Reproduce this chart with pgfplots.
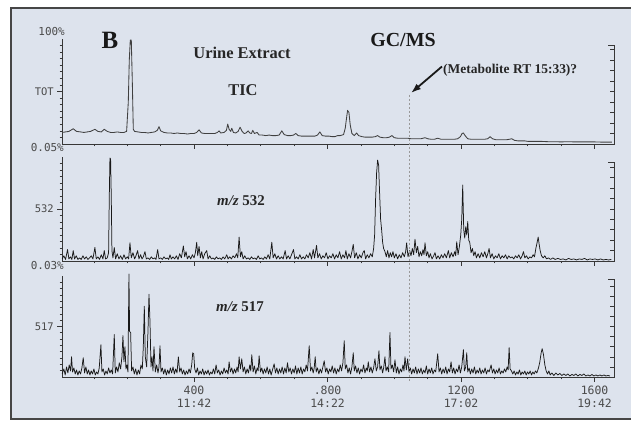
\documentclass[border=0pt]{standalone}
\usepackage{pgfplots}
\pgfplotsset{compat=1.18}
\usetikzlibrary{arrows.meta}
\usepackage{fontspec}
\setmainfont{Liberation Serif}
\newfontfamily\monofont{DejaVu Sans Mono}
\definecolor{bg}{RGB}{221,227,237}
\definecolor{framec}{RGB}{70,70,70}
\definecolor{axc}{RGB}{55,55,55}
\definecolor{lbl}{RGB}{75,75,75}
\pgfplotsset{
  panel/.style={
    scale only axis, width=552.4bp, xmin=5, xmax=1660, ymin=0, ymax=100,
    axis x line*=bottom, axis y line*=left,
    axis line style={axc, line width=0.9pt},
    tick style={axc, line width=0.7pt},
    tick align=outside,
    major tick length=5bp, minor tick length=2.5bp,
    xtick={400,800,1200,1600}, minor xtick={100,200,...,1600},
    ytick={50}, minor ytick={6.25,12.5,18.75,25,31.25,37.5,43.75,56.25,62.5,68.75,75,81.25,87.5,93.75},
    yticklabel style={font=\monofont\fontsize{10.5}{12}\selectfont, text=lbl},
    xticklabel style={font=\monofont\fontsize{11.5}{14}\selectfont, text=lbl, align=center},
    clip=false, anchor=south west,
  },
  trace/.style={line width=0.75pt, color=black!90, mark=none, line join=round},
}
\newcommand{\rightaxis}[1]{%
  \draw[axc, line width=0.9pt] (axis cs:1660,0) -- (axis cs:1660,#1) -- ++(-5bp,0);
  \pgfplotsinvokeforeach{10,20,30,40,50,60,70,80,90}{\draw[axc,line width=0.6pt] (axis cs:1660,##1) -- ++(-2.5bp,0);}%
}
\begin{document}
\begin{tikzpicture}
\path[use as bounding box] (0,0) rectangle (631bp,421bp);
\fill[white] (0,0) rectangle (631bp,421bp);
\fill[bg] (11bp,2bp) rectangle (631bp,413bp);
\draw[framec, line width=1.6pt] (631bp,413bp) -- (11bp,413bp) -- (11bp,2bp) -- (631bp,2bp);

% Panel 1: TIC
\begin{axis}[panel, at={(62.2bp,277bp)}, height=105bp, yticklabels={TOT}, xticklabels={}]
\addplot[trace, color=black!75, line width=0.85pt] coordinates {
(5,11)(15,11.5)(25,12)(38,14.5)(48,12)(60,11.5)(70,11)(80,11.5)(90,12)(103,14)(112,12)(122,11.5)(131,14)(140,12)(150,11)(160,11)(170,11.5)(180,11)(190,11)(198,12)(203,40)(206,80)(209,99)(212,99)(215,60)(218,14)(222,12)(232,11.5)(242,11)(252,11)(262,10.5)(272,11)(282,11.5)(290,13)(295,16.5)(300,12.5)(310,11)(320,10.5)(330,10.5)(340,10)(350,10.5)(360,10)(370,10)(380,9.5)(390,10)(400,10)(408,11)(415,13.5)(422,10.5)(432,10)(442,10)(452,10)(462,10)(470,11)(475,12.5)(480,10.5)(490,11)(497,13)(501,19)(505,14)(510,12)(513,15)(518,11)(525,10.5)(532,12)(538,16)(544,12)(550,10)(556,10.5)(562,12.5)(567,10.5)(572,10)(576,13)(581,10)(589,11)(595,8.5)(605,8.5)(615,8)(625,8.5)(635,8)(645,8)(655,8.5)(663,12.5)(670,9)(680,8)(690,8)(698,8.5)(705,10)(712,8)(722,7.5)(732,7.5)(742,7.5)(752,7.5)(762,7.5)(770,8.5)(777,11.5)(784,8)(794,7.5)(804,7.5)(814,7)(822,7)(830,8)(838,8)(848,9)(853,15)(857,25)(860,32)(864,30)(868,18)(873,10)(880,8)(887,10.5)(893,8)(903,7)(913,6.5)(923,6.5)(933,6.5)(943,7)(950,8)(957,6.5)(967,6)(977,6)(985,6.5)(993,8)(1000,6)(1010,5.5)(1020,5.5)(1030,5.5)(1040,5.5)(1050,5)(1060,5)(1070,5)(1080,5)(1092,6)(1100,5)(1110,4.5)(1120,4.5)(1130,5.5)(1140,4.5)(1150,4.5)(1160,4.5)(1170,4.5)(1180,4.5)(1190,5)(1198,7)(1203,10)(1207,10.5)(1212,8)(1220,5)(1230,4.5)(1240,4.5)(1250,4.5)(1260,4.5)(1270,4.5)(1280,5)(1287,7)(1294,5)(1305,4)(1315,4)(1325,4)(1335,4)(1345,4.5)(1352,5)(1360,3.5)(1370,3)(1380,3)(1390,3)(1400,2.5)(1420,2.5)(1440,2.5)(1460,2.2)(1480,2.2)(1500,2)(1520,2.2)(1540,2)(1560,2)(1580,2)(1600,2)(1620,1.8)(1640,1.8)(1652,1.8)
};
\rightaxis{94}
\end{axis}

% Panel 2: m/z 532
\begin{axis}[panel, at={(62.2bp,160bp)}, height=104bp, yticklabels={532}, xticklabels={}]
\addplot[trace] coordinates {
(5,2)(10,5)(15,1.5)(21,11)(25,2)(30,4)(34,1.5)(38,10)(42,2)(47,5)(52,1.5)(57,3)(62,1.5)(67,5)(72,2)(77,4)(82,1.5)(87,3)(92,5)(97,2)(103,13)(107,2)(112,4)(117,1.5)(122,6)(127,2)(131,10)(135,2)(140,3)(144,8)(146,60)(148,99)(150,98)(152,62)(154,10)(157,3)(161,13)(165,2)(170,7)(175,2)(180,5)(185,1.5)(190,6)(195,2)(200,4)(204,2)(208,17.5)(212,3)(217,8)(222,2)(226,5)(231,10)(235,2)(240,6)(244,2)(248,4)(253,9)(257,2)(262,3)(267,1.5)(272,4)(277,2)(282,3)(286,1.5)(291,11)(295,2)(300,3)(305,1.5)(310,4)(315,2)(320,3)(324,1.5)(328,6)(332,2)(337,4)(342,2)(347,5)(352,1.5)(357,7)(362,3)(368,14.5)(372,4)(376,9)(380,2)(385,5)(390,2)(395,6)(400,3)(404,8)(408,18)(411,5)(415,14)(419,3)(423,9)(427,2)(432,7)(438,10)(442,2)(447,5)(452,2)(457,3)(462,1.5)(467,4)(472,2)(477,3)(482,1.5)(487,4)(492,2)(498,6)(502,2)(507,4)(512,2)(517,5)(522,3)(527,7)(531,3)(535,23)(539,4)(543,9)(547,2)(552,5)(557,2)(562,3)(567,1.5)(572,4)(577,2)(582,3)(587,1.5)(592,5)(597,2)(602,3)(607,1.5)(612,4)(617,2)(622,6)(627,2)(633,18)(637,3)(642,7)(647,2)(652,5)(657,2)(662,4)(667,2)(673,10)(677,2)(682,5)(687,2)(692,6)(698,11)(702,2)(707,4)(712,2)(717,6)(722,2)(727,4)(732,2)(737,6)(742,3)(747,8)(752,2)(757,11)(761,3)(767,15)(771,3)(776,7)(781,2)(786,5)(791,3)(796,8)(801,2)(806,5)(811,3)(816,7)(821,2)(826,6)(831,3)(836,9)(841,2)(846,6)(851,3)(855,10)(859,2)(864,7)(869,3)(873,9)(877,16)(881,3)(886,8)(891,2)(896,6)(901,3)(906,8)(910,10)(914,2)(919,6)(924,3)(929,7)(934,4)(938,12)(941,25)(944,60)(947,85)(950,97)(953,92)(956,65)(959,40)(962,30)(965,18)(968,12)(972,9)(976,4)(980,10)(984,3)(988,8)(992,4)(996,9)(1000,3)(1005,7)(1010,2)(1015,6)(1020,3)(1025,8)(1030,4)(1034,9)(1037,17.5)(1041,4)(1046,10)(1050,5)(1054,12)(1058,6)(1062,21)(1066,8)(1070,14)(1074,4)(1078,9)(1082,5)(1086,11)(1089,6)(1092,17.5)(1096,5)(1100,9)(1104,3)(1108,7)(1113,2)(1118,5)(1122,8)(1126,2)(1131,5)(1136,2)(1141,6)(1146,3)(1151,7)(1156,3)(1162,10)(1166,3)(1171,8)(1176,4)(1181,9)(1184,5)(1187,18.5)(1191,6)(1195,14)(1199,25)(1202,40)(1205,73)(1208,30)(1211,22)(1214,33)(1217,25)(1220,38)(1223,20)(1226,18)(1230,8)(1234,12)(1238,5)(1242,9)(1246,3)(1251,7)(1256,3)(1261,8)(1266,4)(1271,9)(1276,3)(1280,7)(1284,12)(1288,3)(1293,7)(1298,2)(1303,5)(1308,3)(1313,7)(1318,2)(1323,5)(1328,3)(1333,6)(1338,2)(1343,5)(1348,3)(1353,4)(1358,2)(1363,5)(1368,3)(1373,6)(1378,2)(1383,5)(1387,9)(1391,3)(1396,5)(1401,2)(1406,4)(1411,3)(1416,6)(1420,4)(1424,12)(1428,18)(1431,23)(1434,16)(1437,10)(1441,5)(1446,3)(1451,5)(1456,2)(1462,3)(1468,1.5)(1475,3)(1482,1.5)(1490,2.5)(1498,1.5)(1506,2)(1514,1)(1522,2.5)(1530,1.5)(1538,2)(1546,1)(1554,2)(1562,1.5)(1570,2.5)(1578,1)(1586,2)(1594,1.5)(1602,2)(1610,1)(1618,2)(1626,1)(1634,1.5)(1642,1)(1650,1.5)
};
\rightaxis{95}
\end{axis}

% Panel 3: m/z 517
\begin{axis}[panel, at={(62.2bp,44bp)}, height=101bp, yticklabels={517},
  xticklabels={{400\\11:42},{.800\\14:22},{1200\\17:02},{1600\\19:42}}]
\addplot[trace] coordinates {
(5,3)(10,8)(14,2)(18,10)(22,4)(26,12)(30,6)(33,20)(36,5)(40,9)(44,3)(48,7)(52,2)(56,6)(60,3)(64,9)(68,19)(72,4)(76,10)(80,3)(84,7)(88,2)(92,6)(96,3)(100,8)(104,2)(108,5)(112,3)(116,9)(121,32)(124,5)(128,8)(132,2)(136,6)(140,3)(144,9)(148,4)(152,7)(156,3)(161,42)(164,4)(168,10)(172,5)(176,14)(180,8)(184,20)(187,41)(190,15)(193,30)(196,8)(199,12)(202,5)(205,102)(207,45)(210,44)(213,6)(217,10)(221,3)(225,8)(229,2)(233,7)(237,3)(241,12)(245,8)(248,30)(251,70)(254,20)(258,10)(262,45)(265,82)(268,55)(271,10)(274,20)(277,6)(280,30)(284,5)(288,12)(292,4)(295,10)(298,31)(301,5)(305,9)(309,3)(313,8)(317,2)(321,7)(325,3)(329,9)(333,4)(337,10)(341,3)(345,8)(349,4)(353,20)(357,5)(361,9)(365,3)(369,7)(373,2)(377,6)(381,3)(385,8)(389,4)(393,12)(396,24)(399,23)(402,8)(406,4)(410,9)(414,2)(418,6)(422,3)(426,8)(430,2)(434,6)(438,3)(442,7)(446,2)(450,5)(454,3)(458,8)(462,3)(466,12)(470,4)(474,7)(478,2)(482,6)(486,3)(490,9)(494,4)(498,7)(502,3)(505,15)(509,5)(513,9)(517,3)(521,8)(525,4)(529,10)(532,5)(535,20)(539,8)(543,18)(547,5)(551,10)(555,3)(559,8)(563,4)(567,12)(570,6)(573,22)(577,5)(581,11)(585,3)(589,9)(592,6)(595,21)(599,5)(603,9)(607,3)(611,8)(615,4)(619,10)(623,3)(627,8)(631,2)(635,7)(640,13)(644,4)(648,9)(652,3)(656,8)(660,4)(664,10)(668,3)(672,9)(676,4)(680,14)(684,5)(688,9)(692,3)(696,8)(700,4)(704,11)(708,3)(712,9)(716,4)(720,10)(724,3)(728,8)(732,5)(736,12)(740,6)(745,31)(749,6)(753,10)(757,4)(760,9)(763,20)(766,5)(770,9)(774,3)(778,8)(782,4)(786,10)(790,16)(794,5)(798,9)(802,3)(806,8)(810,5)(814,11)(818,4)(822,9)(826,3)(830,8)(834,5)(838,12)(842,6)(846,14)(850,36)(853,8)(857,12)(861,4)(865,9)(869,3)(873,10)(877,24)(880,6)(884,11)(888,4)(892,9)(896,3)(900,8)(904,5)(908,12)(912,4)(916,9)(919,6)(922,15)(926,5)(930,10)(934,4)(938,9)(942,18)(946,6)(950,10)(954,26)(957,7)(961,11)(965,4)(968,9)(972,20)(975,6)(979,10)(983,5)(987,44)(990,8)(994,12)(998,5)(1002,17)(1006,4)(1010,10)(1014,3)(1018,8)(1022,5)(1026,12)(1029,6)(1032,20)(1036,7)(1040,18)(1044,5)(1048,9)(1052,3)(1056,8)(1060,4)(1064,10)(1068,3)(1072,8)(1076,4)(1080,9)(1084,3)(1088,7)(1092,4)(1096,11)(1100,3)(1104,8)(1108,4)(1112,9)(1116,3)(1120,7)(1124,5)(1130,23)(1134,5)(1138,9)(1142,3)(1146,8)(1150,4)(1154,10)(1158,3)(1162,8)(1166,5)(1170,15)(1174,4)(1178,9)(1182,3)(1186,8)(1190,5)(1194,12)(1198,4)(1202,10)(1207,27)(1210,6)(1214,10)(1217,24)(1220,5)(1224,9)(1228,3)(1232,8)(1236,4)(1240,10)(1244,3)(1248,7)(1252,4)(1256,9)(1260,3)(1264,7)(1268,4)(1272,9)(1276,3)(1280,7)(1284,5)(1290,12)(1294,4)(1298,8)(1302,3)(1306,7)(1310,4)(1314,9)(1318,3)(1322,6)(1326,4)(1330,8)(1334,5)(1338,10)(1341,7)(1344,29)(1347,8)(1351,6)(1355,3)(1359,6)(1363,2)(1367,5)(1371,3)(1375,7)(1379,2)(1383,5)(1387,3)(1391,6)(1395,2)(1399,5)(1403,3)(1407,6)(1411,2)(1415,5)(1419,3)(1423,6)(1427,4)(1432,9)(1436,15)(1440,24)(1443,28)(1447,22)(1451,12)(1455,6)(1459,3)(1463,6)(1467,2)(1472,4)(1478,1.5)(1484,4)(1490,2)(1496,3.5)(1502,1.5)(1508,3)(1514,1.5)(1520,3)(1526,1)(1532,2.5)(1538,1.5)(1544,3)(1550,1)(1556,2.5)(1562,1.5)(1568,3)(1574,1)(1580,2)(1586,1)(1592,2.5)(1598,1)(1604,2)(1610,1)(1616,2)(1622,1)(1628,2)(1634,1)(1640,1.5)(1646,1)
};
\rightaxis{97}
\end{axis}

% percentage labels
\begin{scope}[every node/.style={font=\monofont\fontsize{11}{13}\selectfont, text=lbl, inner sep=0pt}]
\node[anchor=east] at (65bp,389bp) {100\%};
\node[anchor=east] at (64bp,273bp) {0.05\%};
\node[anchor=east] at (64bp,155bp) {0.03\%};
\end{scope}

% metabolite marker
\draw[black!40, line width=0.5pt, dash pattern=on 2bp off 2bp] (409bp,326bp) -- (409bp,39bp);
\draw[-{Latex[length=10bp,width=7bp]}, line width=1.8pt, black!90] (442bp,354.5bp) -- (411bp,328bp);

% titles
\node[font=\bfseries\fontsize{25}{28}\selectfont, text=black!90] at (110bp,381bp) {B};
\node[font=\bfseries\fontsize{16.5}{19}\selectfont, text=black!85] at (242bp,368bp) {Urine Extract};
\node[font=\bfseries\fontsize{16.5}{19}\selectfont, text=black!85] at (243bp,331bp) {TIC};
\node[font=\bfseries\fontsize{20}{24}\selectfont, text=black!90] at (403bp,381bp) {GC/MS};
\node[font=\bfseries\fontsize{13.5}{16}\selectfont, text=black!85, anchor=west, inner sep=0pt] at (443bp,351bp) {(Metabolite RT 15:33)?};
\node[font=\bfseries\fontsize{15}{18}\selectfont, text=black!85] at (241bp,220bp) {\textit{m/z} 532};
\node[font=\bfseries\fontsize{15}{18}\selectfont, text=black!85] at (240bp,114bp) {\textit{m/z} 517};
\end{tikzpicture}
\end{document}
